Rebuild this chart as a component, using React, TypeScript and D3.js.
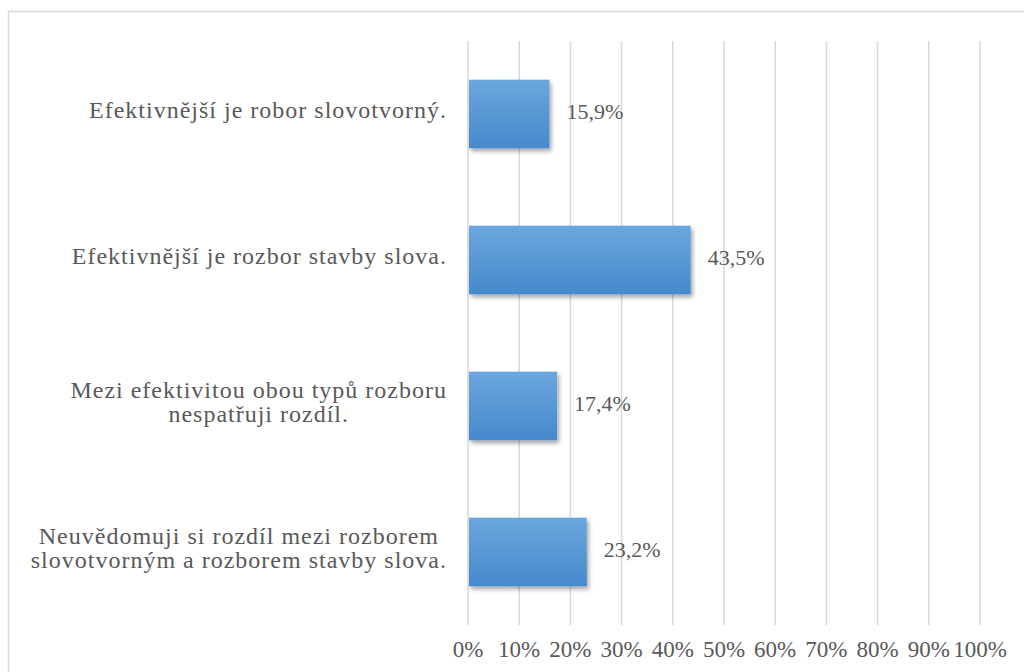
import React, { useLayoutEffect, useRef, useState } from "react";
import * as d3 from "d3";

const categories: string[][] = [
  ["Efektivnější je robor slovotvorný."],
  ["Efektivnější je rozbor stavby slova."],
  ["Mezi efektivitou obou typů rozboru", "nespatřuji rozdíl."],
  ["Neuvědomuji si rozdíl mezi rozborem", "slovotvorným a rozborem stavby slova."],
];
const values: number[] = [15.9, 43.5, 17.4, 23.2];
const ticks: number[] = [0, 10, 20, 30, 40, 50, 60, 70, 80, 90, 100];

const W = 1024;
const H = 672;
const LABEL_RIGHT = 447;

export default function App() {
  const x = d3.scaleLinear().domain([0, 100]).range([468, 980]);
  const y = d3
    .scaleBand<number>()
    .domain(values.map((_, i) => i))
    .range([41, 625])
    .paddingInner(0.53)
    .paddingOuter(0.265);
  const textColor = "#595959";
  const fmt = (v: number) => v.toFixed(1).replace(".", ",") + "%";
  const font = "Liberation Serif";

  const groupRef = useRef<SVGGElement | null>(null);
  const [widths, setWidths] = useState<number[]>(categories.map(() => 0));

  useLayoutEffect(() => {
    const g = groupRef.current;
    if (!g) return;
    const ws = categories.map((_, i) => {
      const nodes = g.querySelectorAll<SVGTextElement>(`text[data-cat="${i}"]`);
      let m = 0;
      nodes.forEach((n) => {
        m = Math.max(m, n.getComputedTextLength());
      });
      return m;
    });
    setWidths(ws);
  }, []);

  return (
    <svg
      width={W}
      height={H}
      style={{ position: "absolute", left: 0, top: 0, background: "#fff", fontFamily: font }}
    >
      <defs>
        <linearGradient id="barGrad" x1="0" y1="0" x2="0" y2="1">
          <stop offset="0%" stopColor="#6ba7de" />
          <stop offset="100%" stopColor="#4689cc" />
        </linearGradient>
        <filter id="shadow" x="-10%" y="-10%" width="130%" height="140%">
          <feDropShadow dx="2" dy="3" stdDeviation="2" floodColor="#000" floodOpacity="0.35" />
        </filter>
      </defs>
      <rect x={8.5} y={11.5} width={W + 20} height={H + 20} fill="none" stroke="#d9d9d9" strokeWidth={1.5} />
      {ticks.map((t) => (
        <g key={t}>
          <line x1={x(t)} x2={x(t)} y1={41} y2={625} stroke="#d9d9d9" strokeWidth={1.5} />
          <text
            x={x(t)}
            y={657}
            textAnchor="middle"
            fill={textColor}
            style={{ fontFamily: font, fontSize: 23 }}
          >
            {t}%
          </text>
        </g>
      ))}
      <g ref={groupRef}>
        {values.map((v, i) => {
          const y0 = y(i)!;
          const bh = y.bandwidth();
          const cy = y0 + bh / 2;
          const lines = categories[i];
          const lh = 24;
          const cx = LABEL_RIGHT - widths[i] / 2;
          return (
            <g key={i}>
              <rect
                x={x(0) + 1}
                y={y0}
                width={x(v) - x(0) - 1}
                height={bh}
                fill="url(#barGrad)"
                filter="url(#shadow)"
              />
              <text
                x={x(v) + 17}
                y={cy + 5}
                fill={textColor}
                style={{ fontFamily: font, fontSize: 22 }}
              >
                {fmt(v)}
              </text>
              {lines.map((l, j) => (
                <text
                  key={j}
                  data-cat={i}
                  x={cx}
                  y={cy + 4 + (j - (lines.length - 1) / 2) * lh}
                  textAnchor="middle"
                  fill={textColor}
                  style={{ fontFamily: font, fontSize: 24, letterSpacing: "1px" }}
                >
                  {l}
                </text>
              ))}
            </g>
          );
        })}
      </g>
    </svg>
  );
}
